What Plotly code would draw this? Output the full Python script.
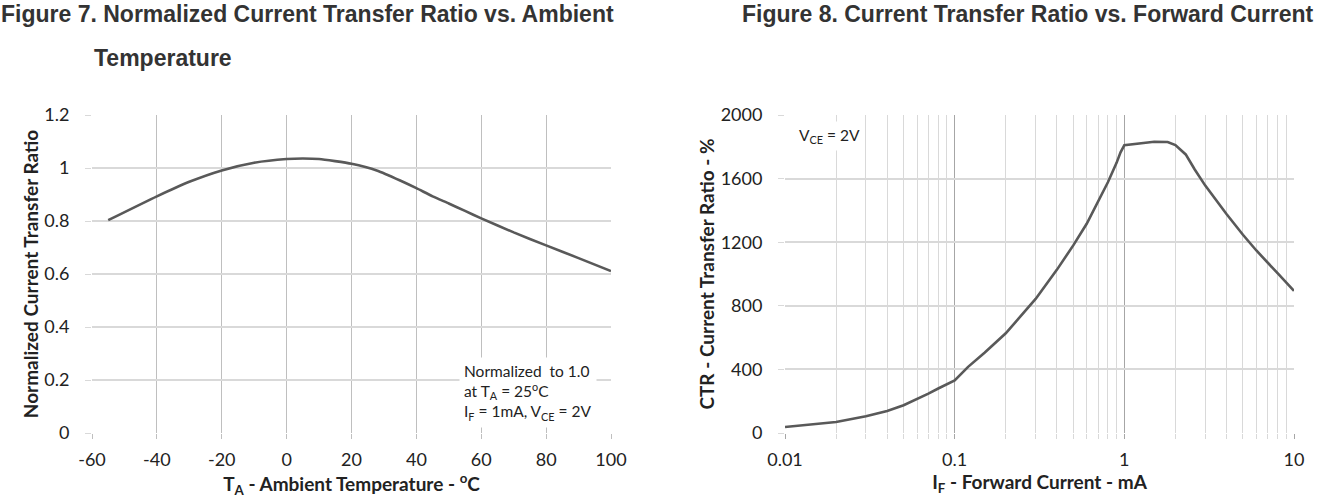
import plotly.graph_objects as go

# ---- Figure 7 data ----
temp_c = [-55, -40, -30, -20, -10, 0, 5, 10, 20, 28, 35, 40, 45, 50, 55, 60, 70, 80, 90, 100]
ctr_norm = [0.803, 0.893, 0.948, 0.991, 1.020, 1.034, 1.036, 1.034, 1.016, 0.990, 0.953, 0.924,
            0.893, 0.866, 0.838, 0.810, 0.757, 0.708, 0.660, 0.611]

# ---- Figure 8 data ----
if_ma = [0.01, 0.02, 0.03, 0.04, 0.05, 0.06, 0.07, 0.08, 0.09, 0.1, 0.12, 0.15, 0.2, 0.3, 0.4, 0.5,
         0.6, 0.7, 0.8, 0.9, 0.95, 1.0, 1.2, 1.5, 1.8, 2.0, 2.3, 2.6, 3.0, 4.0, 5.0, 6.0, 8.0, 10.0]
ctr_pct = [38, 69, 105, 139, 175, 212, 248, 280, 305, 330, 416, 505, 627, 843, 1026, 1180,
           1316, 1451, 1577, 1699, 1765, 1810, 1822, 1832, 1830, 1811, 1752, 1657, 1556, 1377, 1247, 1148, 1005, 894]

x1_ticks = [-60, -40, -20, 0, 20, 40, 60, 80, 100]
x1_text = ["-60", "-40", "-20", "0", "20", "40", "60", "80", "100"]
y1_ticks = [0, 0.2, 0.4, 0.6, 0.8, 1, 1.2]
y1_text = ["0", "0.2", "0.4", "0.6", "0.8", "1", "1.2"]
x2_ticks = [0.01, 0.1, 1, 10]
x2_text = ["0.01", "0.1", "1", "10"]
x2_minor = [k * 10.0 ** e for e in (-2, -1, 0) for k in range(2, 10)]
y2_ticks = [0, 400, 800, 1200, 1600, 2000]
y2_text = ["0", "400", "800", "1200", "1600", "2000"]

W, H = 1318, 500
def px(x):
    return x / W
def py(y):
    return 1 - y / H

line_col = "#595959"
tick_font = dict(family="Lato, 'Open Sans', sans-serif", size=18, color="#222")
title_font = dict(family="Lato, 'Open Sans', sans-serif", size=19, color="#222")

fig = go.Figure()
fig.add_trace(go.Scatter(x=temp_c, y=ctr_norm, mode="lines", xaxis="x", yaxis="y",
                         line=dict(color=line_col, width=2.6, shape="spline", smoothing=0.5),
                         showlegend=False, hoverinfo="x+y"))
fig.add_trace(go.Scatter(x=if_ma, y=ctr_pct, mode="lines", xaxis="x2", yaxis="y2",
                         line=dict(color=line_col, width=2.6),
                         showlegend=False, hoverinfo="x+y"))

ydom = [py(433), py(115)]
fig.update_layout(
    width=W, height=H,
    margin=dict(l=0, r=0, t=0, b=0, autoexpand=False),
    paper_bgcolor="white", plot_bgcolor="white",
    xaxis=dict(domain=[px(92), px(611)], range=[-60, 100], tickvals=x1_ticks, ticktext=x1_text,
               showgrid=True, gridcolor="#bfbfbf", gridwidth=1,
               ticks="outside", ticklen=5, tickcolor="#bfbfbf", ticklabelstandoff=5,
               showline=False, zeroline=False, tickfont=tick_font, automargin=False,
               title=dict(text="<b>T<sub>A</sub> - Ambient Temperature - <sup>o</sup>C</b>",
                          font=title_font, standoff=6),
               anchor="y", fixedrange=True),
    yaxis=dict(domain=ydom, range=[0, 1.2], tickvals=y1_ticks, ticktext=y1_text,
               showgrid=True, gridcolor="#d9d9d9", gridwidth=1.5,
               ticks="outside", ticklen=6, tickcolor="#d9d9d9", ticklabelstandoff=12,
               showline=False, zeroline=False, tickfont=tick_font, automargin=False,
               title=dict(text="<b>Normalized Current Transfer Ratio</b>", font=title_font, standoff=0),
               anchor="x", fixedrange=True),
    xaxis2=dict(domain=[px(785), px(1294)], type="log", range=[-2, 1],
                tickvals=x2_ticks, ticktext=x2_text,
                showgrid=True, gridcolor="#a6a6a6", gridwidth=1,
                minor=dict(tickvals=x2_minor, showgrid=True, gridcolor="#d9d9d9", gridwidth=1,
                           ticks="outside", ticklen=5, tickcolor="#d9d9d9"),
                ticks="outside", ticklen=5, tickcolor="#a6a6a6", ticklabelstandoff=5,
                showline=False, zeroline=False, tickfont=tick_font, automargin=False,
                title=dict(text="<b>I<sub>F</sub> - Forward Current - mA</b>", font=title_font, standoff=6),
                anchor="y2", fixedrange=True),
    yaxis2=dict(domain=ydom, range=[0, 2000], tickvals=y2_ticks, ticktext=y2_text,
                showgrid=True, gridcolor="#d9d9d9", gridwidth=1.5,
                ticks="outside", ticklen=6, tickcolor="#d9d9d9", ticklabelstandoff=12,
                showline=False, zeroline=False, tickfont=tick_font, automargin=False,
                title=dict(text="<b>CTR - Current Transfer Ratio - %</b>", font=title_font, standoff=0),
                anchor="x2", fixedrange=True),
    hovermode="closest",
)

head_font = dict(family="'Liberation Sans', Arial, sans-serif", size=23, color="#333")
fig.add_annotation(x=px(0), y=py(0), xref="paper", yref="paper", xanchor="left", yanchor="top",
                   text="<b>Figure 7. Normalized Current Transfer Ratio vs. Ambient</b>",
                   showarrow=False, font=head_font, borderpad=0)
fig.add_annotation(x=px(92), y=py(58), xref="paper", yref="paper", xanchor="left", yanchor="middle",
                   text="<b>Temperature</b>", showarrow=False, font=head_font)
fig.add_annotation(x=px(1315), y=py(0), xref="paper", yref="paper", xanchor="right", yanchor="top",
                   text="<b>Figure 8. Current Transfer Ratio vs. Forward Current</b>",
                   showarrow=False, font=head_font, borderpad=0)

note_font = dict(family="Lato, 'Open Sans', sans-serif", size=15.5, color="#222")
fig.add_annotation(x=px(459), y=py(357), xref="paper", yref="paper", xanchor="left", yanchor="top",
                   text="Normalized  to 1.0<br>at T<sub>A</sub> = 25<sup>o</sup>C<br>I<sub>F</sub> = 1mA, V<sub>CE</sub> = 2V",
                   align="left", showarrow=False, font=note_font, bgcolor="white", borderpad=4)
fig.add_annotation(x=px(794), y=py(136), xref="paper", yref="paper", xanchor="left", yanchor="middle",
                   text="V<sub>CE</sub> = 2V", align="left", showarrow=False, font=note_font,
                   bgcolor="white", borderpad=4)

# remove the page's default 8px body margin so the figure fills the window exactly
fig.write_html("out.html", config={"displayModeBar": False},
               post_script="document.body.style.margin='0px';")
